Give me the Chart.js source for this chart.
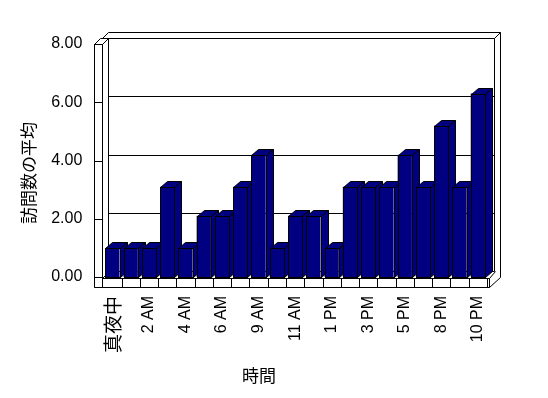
<!DOCTYPE html>
<html><head><meta charset="utf-8">
<script src="https://cdn.jsdelivr.net/npm/chart.js@4/dist/chart.umd.min.js"></script>
<style>html,body{margin:0;padding:0;background:#fff;}canvas{display:block;}</style>
</head><body>
<canvas id="c" width="548" height="398"></canvas>
<script>
const categories = ['真夜中','1 AM','2 AM','3 AM','4 AM','5 AM','6 AM','7 AM','9 AM','10 AM','11 AM','正午','1 PM','2 PM','3 PM','4 PM','5 PM','7 PM','8 PM','9 PM','10 PM'];
const visitAverages = [1.0,1.0,1.0,3.1,1.0,2.1,2.1,3.1,4.2,1.0,2.1,2.1,1.0,3.1,3.1,3.1,4.2,3.1,5.2,3.1,6.3];
const yTicks = [0,2,4,6,8];
const yTitle = '訪問数の平均';
const xTitle = '時間';

const LATIN = '"Liberation Sans", "Noto Sans CJK JP", sans-serif';
const CJK = '"Noto Sans CJK JP", "Liberation Sans", sans-serif';
const DX = 7, DY = -6;

const frame3d = {
  id: 'frame3d',
  beforeDatasetsDraw(chart) {
    const {ctx, chartArea: a, scales: {x, y}} = chart;
    const L = a.left, R = a.right, T = a.top, B = a.bottom;
    const s = v => Math.round(v) + 0.5;
    const path = (pts, close, fill) => {
      ctx.beginPath();
      ctx.moveTo(s(pts[0][0]), s(pts[0][1]));
      for (let i = 1; i < pts.length; i++) ctx.lineTo(s(pts[i][0]), s(pts[i][1]));
      if (close) ctx.closePath();
      if (fill) { ctx.fillStyle = fill; ctx.fill(); }
      ctx.stroke();
    };
    ctx.save();
    ctx.strokeStyle = '#000';
    ctx.lineWidth = 1;
    const wl = L - 9.5, wr = L - 1.5;       // left wall front face
    // back wall
    path([[L+DX-2, T+DY],[R+DX, T+DY],[R+DX, B+DY],[L+DX-2, B+DY]], true, '#fff');
    // back wall thickness (top & right)
    path([[wr, T+DY],[wr+6, T+DY-6],[R+DX+6, T+DY-6],[R+DX, T+DY]]);
    path([[R+DX+6, T+DY-6],[R+DX+6, B+DY+6]]);
    // gridlines on back wall
    yTicks.forEach(v => {
      if (v === 0 || v === 8) return;
      const py = y.getPixelForValue(v) + DY;
      path([[L+DX-2, py],[R+DX, py]]);
    });
    // left wall front face
    path([[wl, T],[wr, T],[wr, B+10],[wl, B+10]], true, '#fff');
    path([[wl, T],[wl+6, T+DY],[wr+6, T+DY]]);
    path([[wr, T],[wr+6, T+DY]]);
    yTicks.forEach(v => {
      const py = y.getPixelForValue(v);
      path([[wl, py],[wr, py]]);
    });
    // floor front strip
    path([[wr, B+1],[R+1.5, B+1],[R+1.5, B+10],[wl, B+10]]);
    const n = categories.length;
    for (let i = 1; i <= n; i++) {
      const px = L + (R - L) * i / n;
      path([[px, B+1],[px, B+10]]);
    }
    // floor right side
    path([[R+1.5, B+1],[R+DX+1, B+DY]]);
    path([[R+1.5, B+10],[R+DX+6, B+DY+6]]);
    path([[wr, B+1],[wr+6, B+DY+1]]);
    // bar depth faces
    const meta = chart.getDatasetMeta(0);
    ctx.fillStyle = '#000080';
    meta.data.forEach(bar => {
      const p = bar.getProps(['x','y','base','width'], true);
      const l = p.x - p.width/2, r = p.x + p.width/2, t = p.y, b = p.base;
      path([[l, t],[r, t],[r+DX, t+DY],[l+DX, t+DY]], true, '#000080');
      path([[r, t],[r+DX, t+DY],[r+DX, b+DY],[r, b]], true, '#000080');
    });
    ctx.restore();
  },
  afterDatasetsDraw(chart) {
    const {ctx} = chart;
    const s = v => Math.round(v) + 0.5;
    ctx.save();
    ctx.strokeStyle = '#000';
    ctx.lineWidth = 1;
    chart.getDatasetMeta(0).data.forEach(bar => {
      const p = bar.getProps(['x','y','base','width'], true);
      const l = s(p.x - p.width/2), r = s(p.x + p.width/2), t = s(p.y), b = s(p.base);
      ctx.strokeRect(l, t, r - l, b - t);
    });
    // axis titles
    ctx.fillStyle = '#000';
    ctx.font = '17px ' + CJK;
    ctx.textAlign = 'center';
    ctx.textBaseline = 'middle';
    ctx.fillText(xTitle, 259, 376);
    ctx.translate(29, 173);
    ctx.rotate(-Math.PI/2);
    ctx.fillText(yTitle, 0, 0);
    ctx.restore();
  }
};

new Chart(document.getElementById('c'), {
  type: 'bar',
  data: {
    labels: categories,
    datasets: [{
      data: visitAverages,
      backgroundColor: '#000080',
      borderWidth: 0,
      barPercentage: 0.78,
      categoryPercentage: 1.0
    }]
  },
  options: {
    responsive: false,
    animation: false,
    devicePixelRatio: 1,
    layout: {padding: {left: 0, top: 44, right: 61, bottom: 0}},
    plugins: {legend: {display: false}, tooltip: {enabled: false}},
    scales: {
      x: {
        grid: {display: false, drawTicks: false},
        border: {display: false},
        afterFit: sc => { sc.height = 121; },
        ticks: {
          autoSkip: false,
          minRotation: 90, maxRotation: 90,
          padding: 19,
          color: '#000',
          font: ctx => (ctx.index === 0 ? {family: CJK, size: 19} : {family: LATIN, size: 16}),
          callback: (v, i) => (i % 2 === 0 ? categories[i] : '')
        }
      },
      y: {
        min: 0, max: 8,
        grid: {display: false, drawTicks: false},
        border: {display: false},
        afterFit: sc => { sc.width = 103.3; },
        afterBuildTicks: sc => { sc.ticks = yTicks.map(v => ({value: v})); },
        ticks: {
          padding: 21,
          color: '#000',
          font: {family: LATIN, size: 16},
          callback: v => Number(v).toFixed(2)
        }
      }
    }
  },
  plugins: [frame3d]
});
</script>
</body></html>
